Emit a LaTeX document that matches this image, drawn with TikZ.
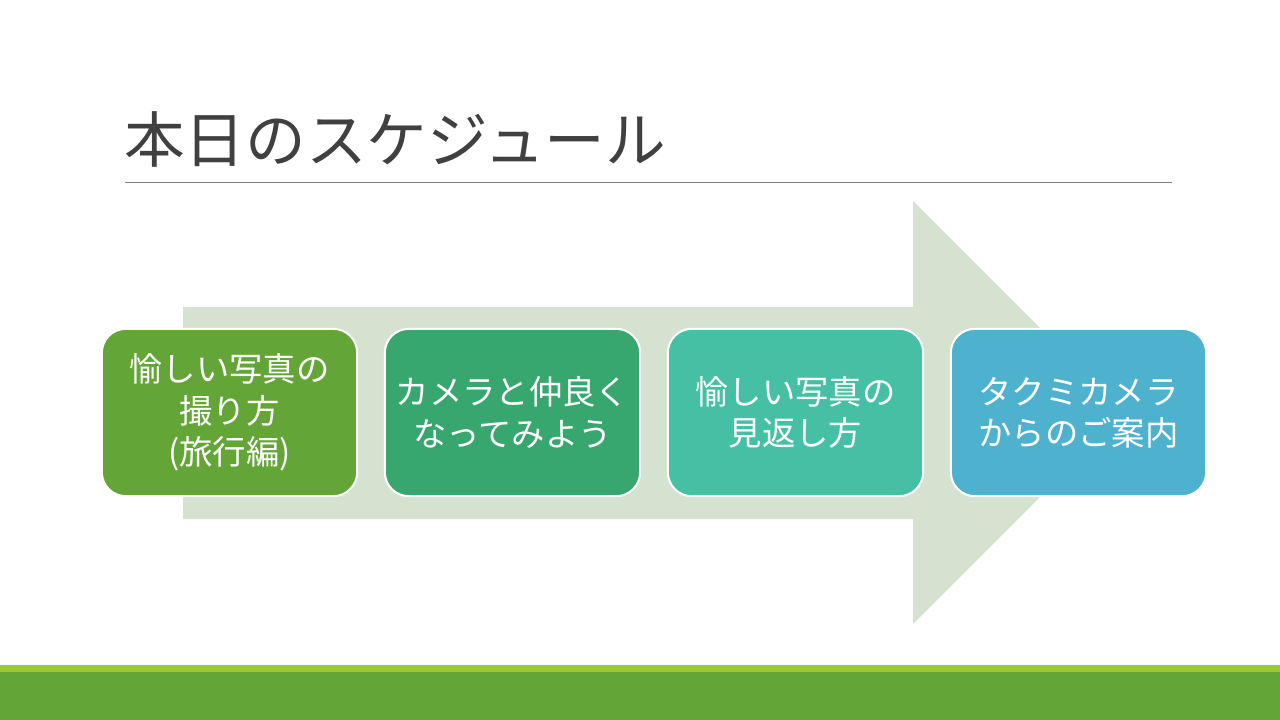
\documentclass[tikz,border=0pt]{standalone}
\usepackage{fontspec}
\newfontfamily\cjk{Noto Sans CJK JP}
\definecolor{boxA}{RGB}{99,165,55}
\definecolor{boxB}{RGB}{56,167,111}
\definecolor{boxC}{RGB}{70,192,164}
\definecolor{boxD}{RGB}{78,178,207}
\definecolor{arrowfill}{RGB}{214,226,208}
\definecolor{barlight}{RGB}{153,203,57}
\definecolor{bardark}{RGB}{99,165,54}
\definecolor{titlegray}{RGB}{64,64,64}
\definecolor{rulegray}{RGB}{128,128,128}
\tikzset{
  stepbox/.style={draw=white, line width=1.5pt, rounded corners=18pt,
    minimum width=191.5pt, minimum height=125.5pt, inner sep=0pt,
    text=white, align=center, font=\cjk\fontsize{25}{31}\selectfont},
}
\begin{document}
\begin{tikzpicture}[x=0.75pt,y=-0.75pt]
\useasboundingbox (0,0) rectangle (1280,720);
\fill[white] (0,0) rectangle (1280,720);
% title
\node[anchor=west, inner sep=0pt, text=titlegray, font=\cjk\fontsize{45.5}{52}\selectfont] (title) at (124,139) {本日のスケジュール};
\coordinate (ruleL) at (125,183);
\coordinate (ruleR) at (1172,183);
\draw[rulegray, line width=0.75pt] (ruleL) -- (ruleR);
% big arrow
\fill[arrowfill] (183,307) -- (913,307) -- (913,201) -- (1124.5,412.5) -- (913,624) -- (913,519) -- (183,519) -- cycle;
% boxes
\node[stepbox, fill=boxA] (s1) at (229.5,412.5) {愉しい写真の\\撮り方\\(旅行編)};
\node[stepbox, fill=boxB] (s2) at (512.5,412.5) {カメラと仲良く\\なってみよう};
\node[stepbox, fill=boxC] (s3) at (795.5,412.5) {愉しい写真の\\見返し方};
\node[stepbox, fill=boxD] (s4) at (1078.5,412.5) {タクミカメラ\\からのご案内};
% bottom bars
\fill[barlight] (0,665) rectangle (1280,672);
\fill[bardark] (0,672) rectangle (1280,720);
\end{tikzpicture}
\end{document}
